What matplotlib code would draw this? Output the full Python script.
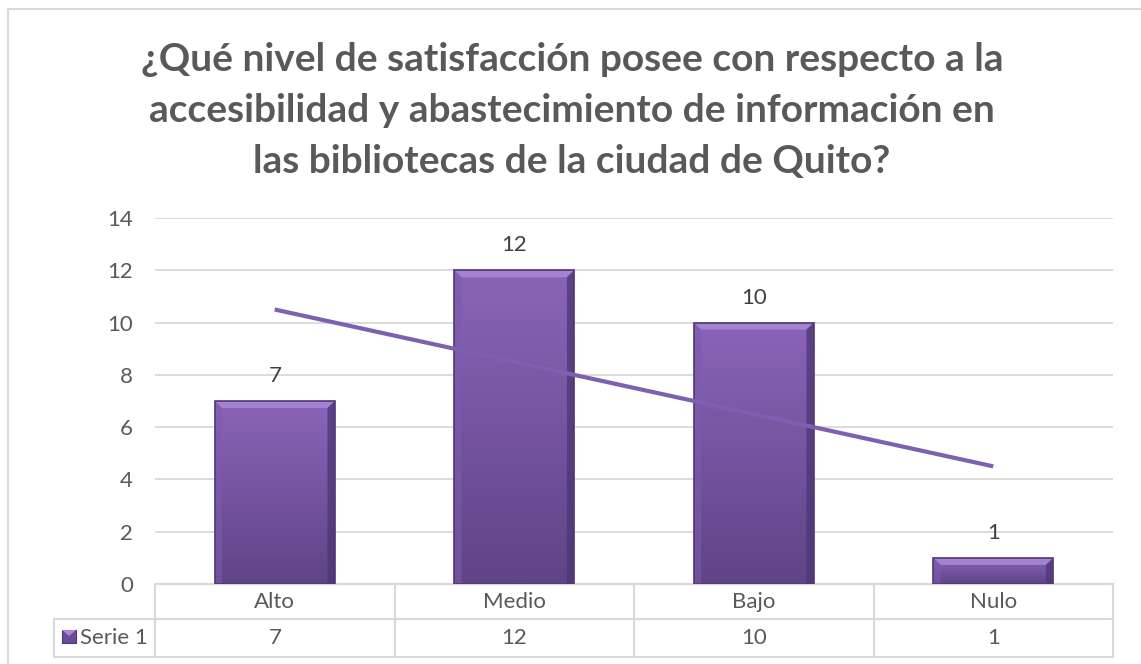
import numpy as np
import matplotlib
matplotlib.use("Agg")
import matplotlib.pyplot as plt
from matplotlib.patches import Rectangle, Polygon
from matplotlib.lines import Line2D

plt.rcParams['font.family'] = ['Lato', 'DejaVu Sans']

# Survey answers
categorias = ['Alto', 'Medio', 'Bajo', 'Nulo']
valores = [7, 12, 10, 1]
serie = 'Serie 1'
titulo = ['¿Qué nivel de satisfacción posee con respecto a la',
          'accesibilidad y abastecimiento de información en',
          'las bibliotecas de la ciudad de Quito?']
yticks = [0, 2, 4, 6, 8, 10, 12, 14]

W, H = 1141, 664
gris = '#595959'
linea = '#d9d9d9'
fs = 16

fig = plt.figure(figsize=(W / 100, H / 100), dpi=100)
ax = fig.add_axes([155 / W, (H - 584) / H, (1113 - 155) / W, (584 - 218) / H])

x = np.arange(len(categorias))
ax.set_xlim(-0.5, len(categorias) - 0.5)
ax.set_ylim(0, 14)
ax.set_yticks(yticks)
ax.set_xticks([])
ax.tick_params(axis='y', length=0, pad=16, labelsize=fs, labelcolor=gris)
for s in ax.spines.values():
    s.set_visible(False)
ax.grid(axis='y', color=linea, lw=1.3)
ax.set_axisbelow(True)

# gradient bars with a bevelled edge
ancho = 0.5
grad = np.linspace(0, 1, 256).reshape(-1, 1)
cmap = matplotlib.colors.LinearSegmentedColormap.from_list('morado', ['#5f4487', '#8a64b9'])
bx, by = 0.03, 0.27
for xi, v in zip(x, valores):
    x0, x1 = xi - ancho / 2, xi + ancho / 2
    rect = Rectangle((x0, 0), ancho, v, facecolor='none', edgecolor='#4f3873', lw=1.2, zorder=4)
    ax.add_patch(rect)
    im = ax.imshow(grad, extent=(x0, x1, 0, v), origin='lower', cmap=cmap,
                   aspect='auto', zorder=3)
    im.set_clip_path(rect)
    # bevel strips
    ax.add_patch(Polygon([(x0, v), (x1, v), (x1 - bx, v - by), (x0 + bx, v - by)],
                         closed=True, facecolor='#a988d6', edgecolor='none', alpha=0.85, zorder=3.5))
    ax.add_patch(Polygon([(x0, 0), (x0, v), (x0 + bx, v - by), (x0 + bx, 0)],
                         closed=True, facecolor='#7e5aae', edgecolor='none', alpha=0.6, zorder=3.5))
    ax.add_patch(Polygon([(x1, 0), (x1, v), (x1 - bx, v - by), (x1 - bx, 0)],
                         closed=True, facecolor='#4e3575', edgecolor='none', alpha=0.75, zorder=3.5))
    ax.annotate(str(v), (xi, v), xytext=(0, 18), textcoords='offset points',
                ha='center', va='center', fontsize=fs, color='#404040', zorder=6)

# linear trend line
m, b = np.polyfit(x, valores, 1)
ax.plot(x, m * x + b, color='#7e5fb2', lw=3, zorder=5, solid_capstyle='butt')

# data table under the axis
tr = ax.get_xaxis_transform()
y_mid = -(619 - 584) / 366
y_bot = -(657 - 584) / 366
x_left = (54 - 155) / 239.5 - 0.5
kw = dict(transform=tr, color=linea, lw=1.5, clip_on=False)
ax.add_line(Line2D([-0.5, 3.5], [0, 0], **kw))
ax.add_line(Line2D([x_left, 3.5], [y_mid, y_mid], **kw))
ax.add_line(Line2D([x_left, 3.5], [y_bot, y_bot], **kw))
ax.add_line(Line2D([x_left, x_left], [y_mid, y_bot], **kw))
for xb in np.arange(-0.5, len(categorias)):
    ax.add_line(Line2D([xb, xb], [0, y_bot], **kw))
for xi, c, v in zip(x, categorias, valores):
    ax.text(xi, y_mid / 2, c, transform=tr, ha='center', va='center',
            fontsize=fs, color=gris)
    ax.text(xi, (y_mid + y_bot) / 2, str(v), transform=tr, ha='center', va='center',
            fontsize=fs, color=gris)
ax.text(x_left + 0.11, (y_mid + y_bot) / 2, serie, transform=tr, ha='left', va='center',
        fontsize=fs, color=gris)

# legend key in the table
key = Rectangle((62 / W, 1 - 643 / H), 14 / W, 13 / H, transform=fig.transFigure,
                facecolor='#6a4c96', edgecolor='#4f3873', lw=0.8)
fig.add_artist(key)
fig.add_artist(Polygon([(62 / W, 1 - 630 / H), (76 / W, 1 - 630 / H), (69 / W, 1 - 636 / H)],
                       closed=True, transform=fig.transFigure, facecolor='#a988d6',
                       edgecolor='none'))

# chart frame
fig.add_artist(Line2D([8 / W, 8 / W], [0, 1 - 8.5 / H], transform=fig.transFigure,
                      color=linea, lw=1.5))
fig.add_artist(Line2D([8 / W, 1], [1 - 8.5 / H, 1 - 8.5 / H], transform=fig.transFigure,
                      color=linea, lw=1.5))

# title, one baseline per line
for i, t in enumerate(titulo):
    fig.text((136 + 1008) / 2 / W, 1 - (71 + 51 * i) / H, t, ha='center', va='baseline',
             fontsize=28, fontweight='bold', color=gris)

fig.savefig('out.png', dpi=100)
